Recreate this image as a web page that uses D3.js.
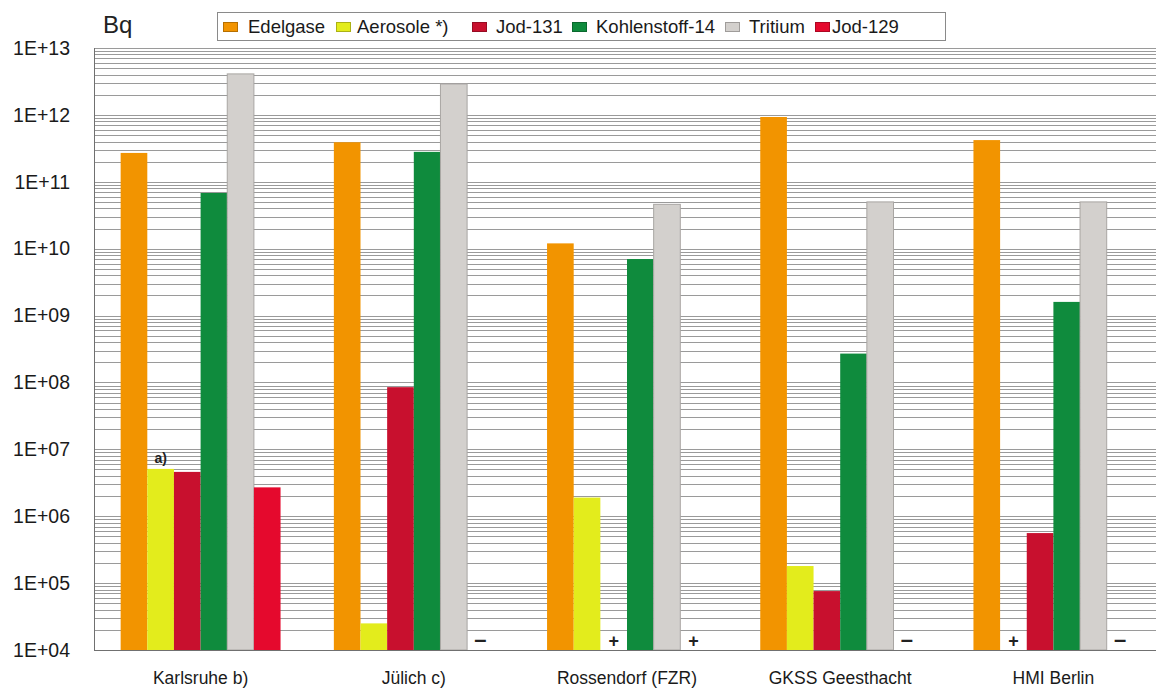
<!DOCTYPE html>
<html>
<head>
<meta charset="utf-8">
<script src="https://cdn.jsdelivr.net/npm/d3@7"></script>
<style>
  html, body { margin: 0; padding: 0; background: #fff; }
  svg { display: block; font-family: "Liberation Sans", Arial, sans-serif; }
</style>
</head>
<body>
<svg id="chart" width="1156" height="689"></svg>
<script>
// Sites and nuclide groups
const sites = ["Karlsruhe b)", "Jülich c)", "Rossendorf (FZR)", "GKSS Geesthacht", "HMI Berlin"];
const nuclides = ["Edelgase", "Aerosole *)", "Jod-131", "Kohlenstoff-14", "Tritium", "Jod-129"];
const nuclideColors = ["#f29400", "#e3ec1c", "#c8102e", "#0f8b3d", "#d3d0cd", "#e5092d"];

// Annual discharges in Bq per site (null = no bar)
const edelgase     = [2.7e11, 3.9e11, 1.2e10, 9.3e11, 4.2e11];
const aerosole     = [5.1e6,  2.5e4,  1.9e6,  1.8e5,  null];
const jod131       = [4.6e6,  8.5e7,  null,   7.6e4,  5.6e5];
const kohlenstoff  = [6.8e10, 2.8e11, 7.0e9,  2.7e8,  1.6e9];
const tritium      = [4.1e12, 2.9e12, 4.6e10, 5.0e10, 5.0e10];
const jod129       = [2.7e6,  null,   null,   null,   null];

// Symbols shown at the base of empty slots
const markSite    = ["Jülich c)", "Rossendorf (FZR)", "Rossendorf (FZR)", "GKSS Geesthacht", "HMI Berlin", "HMI Berlin"];
const markNuclide = ["Jod-129", "Jod-131", "Jod-129", "Jod-129", "Aerosole *)", "Jod-129"];
const markSymbol  = ["-", "+", "+", "-", "+", "-"];

const yTicks = [1e4, 1e5, 1e6, 1e7, 1e8, 1e9, 1e10, 1e11, 1e12, 1e13];
const yUnit = "Bq";

const seriesValues = [edelgase, aerosole, jod131, kohlenstoff, tritium, jod129];

const svg = d3.select("#chart");
const plotLeft = 94, plotRight = 1160, plotTop = 48, plotBottom = 650;

const y = d3.scaleLog().domain([1e4, 1e13]).range([plotBottom, plotTop]);
const x0 = d3.scaleBand().domain(sites).range([plotLeft, plotRight]).padding(0);
const x1 = d3.scaleBand().domain(nuclides).range([0, x0.bandwidth()]).paddingInner(0).paddingOuter(1);
const color = d3.scaleOrdinal().domain(nuclides).range(nuclideColors);

// Horizontal grid: every decade plus 2..9 sub-steps
const gridVals = [];
for (let e = 4; e < 13; e++) {
  for (let m = 1; m <= 9; m++) gridVals.push(m * Math.pow(10, e));
}
gridVals.push(1e13);

svg.append("g")
  .selectAll("line")
  .data(gridVals)
  .join("line")
  .attr("x1", plotLeft)
  .attr("x2", 1156)
  .attr("y1", d => Math.round(y(d)) + 0.5)
  .attr("y2", d => Math.round(y(d)) + 0.5)
  .attr("stroke", "#9a9a9a")
  .attr("stroke-width", 1);

// Bars
const bars = [];
seriesValues.forEach((vals, si) => {
  vals.forEach((v, ci) => {
    if (v != null) bars.push({ site: sites[ci], nuclide: nuclides[si], value: v });
  });
});

svg.append("g")
  .selectAll("rect")
  .data(bars)
  .join("rect")
  .attr("x", d => x0(d.site) + x1(d.nuclide))
  .attr("width", x1.bandwidth())
  .attr("y", d => y(d.value))
  .attr("height", d => y(1e4) - y(d.value))
  .attr("fill", d => color(d.nuclide))
  .attr("stroke", d => d.nuclide === "Tritium" ? "#a9a6a3" : "none")
  .attr("stroke-width", 1);

// Axis frame
svg.append("line")
  .attr("x1", plotLeft + 0.5).attr("x2", plotLeft + 0.5)
  .attr("y1", plotTop).attr("y2", plotBottom)
  .attr("stroke", "#707070");
svg.append("line")
  .attr("x1", plotLeft).attr("x2", 1156)
  .attr("y1", plotBottom + 0.5).attr("y2", plotBottom + 0.5)
  .attr("stroke", "#707070");

// Y axis labels
const yAxis = d3.axisLeft(y)
  .tickValues(yTicks)
  .tickSize(0)
  .tickPadding(0)
  .tickFormat(d => "1E+" + String(Math.round(Math.log10(d))).padStart(2, "0"));
const gy = svg.append("g").attr("transform", "translate(70,0)").call(yAxis);
gy.select(".domain").remove();
gy.selectAll("text")
  .attr("font-size", 19.5)
  .attr("fill", "#1a1a1a")
  .attr("font-family", "Liberation Sans, Arial, sans-serif");

// Category labels
const xAxis = d3.axisBottom(x0).tickSize(0).tickPadding(0);
const gx = svg.append("g").attr("transform", "translate(0,672)").call(xAxis);
gx.select(".domain").remove();
gx.selectAll("text")
  .attr("font-size", 17.5)
  .attr("fill", "#1a1a1a")
  .attr("dy", "0.71em")
  .attr("font-family", "Liberation Sans, Arial, sans-serif");

// Unit label
svg.append("text")
  .attr("x", 103).attr("y", 33)
  .attr("font-size", 24)
  .attr("fill", "#222")
  .text(yUnit);

// Note above the Karlsruhe aerosol bar
svg.append("text")
  .attr("x", x0("Karlsruhe b)") + x1("Aerosole *)") + x1.bandwidth() / 2)
  .attr("y", y(aerosole[0]) - 6)
  .attr("text-anchor", "middle")
  .attr("font-size", 14)
  .attr("font-weight", "bold")
  .attr("fill", "#222")
  .text("a)");

// Slot symbols
const marks = markSymbol.map((s, i) => ({ site: markSite[i], nuclide: markNuclide[i], sym: s }));
svg.append("g")
  .selectAll("text")
  .data(marks)
  .join("text")
  .attr("x", d => x0(d.site) + x1(d.nuclide) + x1.bandwidth() / 2)
  .attr("y", 647)
  .attr("text-anchor", "middle")
  .attr("font-size", d => d.sym === "+" ? 18 : 22)
  .attr("font-weight", "bold")
  .attr("fill", "#222")
  .text(d => d.sym === "-" ? "\u2013" : "+");

// Legend
const legend = svg.append("g");
legend.append("rect")
  .attr("x", 217.5).attr("y", 12.5)
  .attr("width", 728).attr("height", 28)
  .attr("fill", "#fff")
  .attr("stroke", "#8a8a8a");

const swatchX = [223, 336, 472, 572, 725, 815];
const labelX = [248, 357, 496, 596, 749, 832];
const li = legend.selectAll("g.item")
  .data(nuclides)
  .join("g")
  .attr("class", "item");
li.append("rect")
  .attr("x", (d, i) => swatchX[i] + 0.5)
  .attr("y", 22.5)
  .attr("width", 14)
  .attr("height", 9)
  .attr("fill", d => color(d))
  .attr("stroke", d => d3.color(color(d)).darker(0.8))
  .attr("stroke-width", 1);
li.append("text")
  .attr("x", (d, i) => labelX[i])
  .attr("y", 33)
  .attr("font-size", 18.5)
  .attr("fill", "#1a1a1a")
  .text(d => d);
</script>
</body>
</html>
